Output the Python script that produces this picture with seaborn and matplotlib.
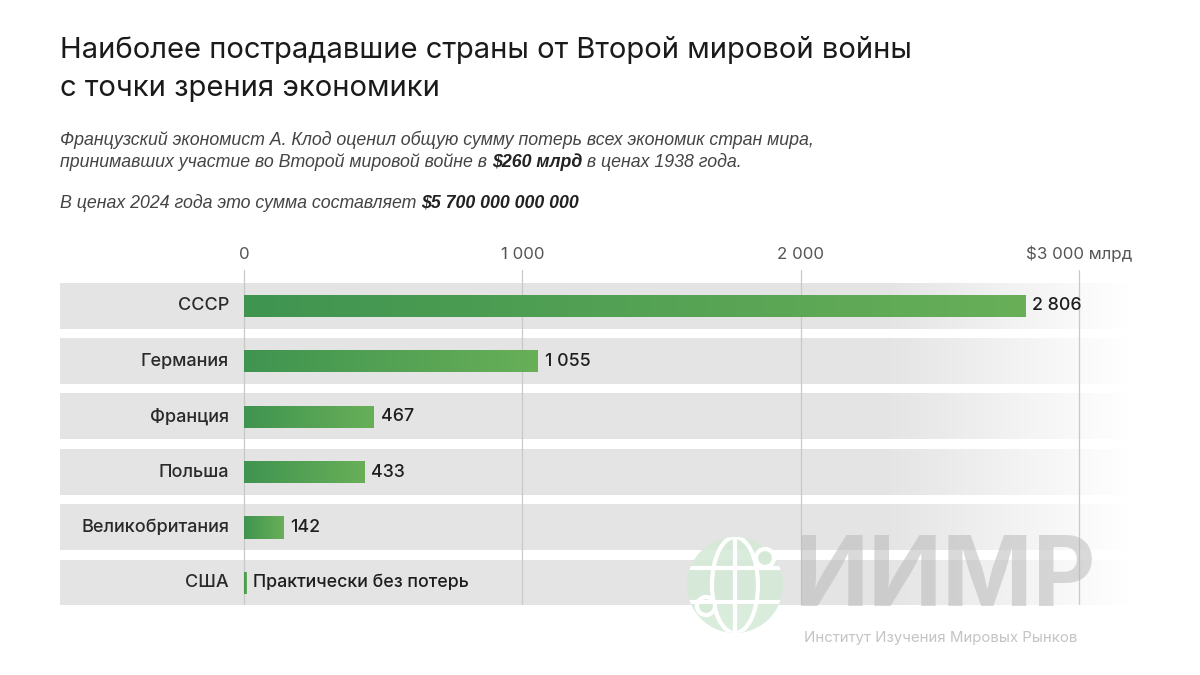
import numpy as np
import pandas as pd
import matplotlib
matplotlib.use("Agg")
import matplotlib.pyplot as plt
import matplotlib.transforms as mtransforms
from matplotlib.patches import Circle, Ellipse
import seaborn as sns

# данные
countries = ["СССР", "Германия", "Франция", "Польша", "Великобритания", "США"]
losses = [2806, 1055, 467, 433, 142, 8]   # млрд $ в ценах 1938 г., США ~ 0
value_labels = ["2 806", "1 055", "467", "433", "142", "Практически без потерь"]
ticks = [0, 1000, 2000, 3000]
tick_labels = ["0", "1 000", "2 000", "$3 000 млрд"]

df = pd.DataFrame({"country": countries, "loss": losses})

sns.set_theme(style="white")
plt.rcParams["font.family"] = ["Inter", "DejaVu Sans"]

fig = plt.figure(figsize=(12, 6.75), dpi=100)
ax = fig.add_axes([0.05, 0.1037, 0.8917, 0.4963])

xmin, xmax = -661, 3183
ax.set_xlim(xmin, xmax)
ax.set_ylim(5.4, -0.65)

# серые полосы с затуханием вправо
n = 400
alpha = np.ones(n)
xs = np.linspace(xmin, xmax, n)
fade = xs > 2300
alpha[fade] = 1 - (xs[fade] - 2300) / (xmax - 2300)
band = np.zeros((1, n, 4))
band[..., :3] = 0.895
band[..., 3] = alpha
for i in range(len(countries)):
    ax.imshow(band, extent=(xmin, xmax, i + 0.41, i - 0.41), aspect="auto", zorder=0.2)

sns.barplot(data=df, x="loss", y="country", orient="h", color="#4e9f55",
            width=0.4, ax=ax, zorder=2, linewidth=0)

# градиент на столбцах
cmap = matplotlib.colors.LinearSegmentedColormap.from_list("g", ["#3f9450", "#68af58"])
grad = np.linspace(0, 1, 256).reshape(1, -1)
for p in list(ax.patches):
    x0, y0 = p.get_x(), p.get_y()
    w, h = p.get_width(), p.get_height()
    im = ax.imshow(grad, cmap=cmap, extent=(x0, x0 + w, y0 + h, y0), aspect="auto", zorder=2.1)
    im.set_clip_path(p)

ax.set_xlim(xmin, xmax)
ax.set_ylim(5.4, -0.65)

ax.bar_label(ax.containers[0], labels=value_labels, padding=5, fontsize=12.8,
             color="#1e1e1e", fontweight="medium")

# подписи стран
off = mtransforms.offset_copy(ax.transData, fig=fig, x=-15, y=0, units="dots")
for i, c in enumerate(countries):
    ax.text(0, i, c, transform=off, ha="right", va="center", fontsize=13,
            color="#2a2a2a", fontweight="medium")

ax.set_yticks([])
ax.set_xticks(ticks)
ax.set_xticklabels(tick_labels)
ax.xaxis.tick_top()
ax.tick_params(axis="x", length=0, pad=6, labelsize=12.2, labelcolor="#555555")
ax.set_xlabel("")
ax.set_ylabel("")
ax.grid(axis="x", color="#c9c9c9", linewidth=0.9)
ax.set_axisbelow(True)
for s in ax.spines.values():
    s.set_visible(False)
ax.patch.set_alpha(0)

# заголовок
fig.text(0.05, 1 - 50 / 675, "Наиболее пострадавшие страны от Второй мировой войны",
         fontsize=21, color="#1a1a1a", va="center")
fig.text(0.05, 1 - 88 / 675, "с точки зрения экономики",
         fontsize=21, color="#1a1a1a", va="center")

sub_font = ["Liberation Sans", "DejaVu Sans"]


def rich_line(parts, x, y, size=12.8):
    for txt, bold in parts:
        t = fig.text(x, y, txt, fontsize=size, style="italic", family=sub_font,
                     color="#222222" if bold else "#444444",
                     fontweight="bold" if bold else "normal", va="center")
        fig.canvas.draw()
        bb = t.get_window_extent()
        x = bb.x1 / fig.bbox.width


rich_line([("Французский экономист А. Клод оценил общую сумму потерь всех экономик стран мира,", False)],
          0.05, 1 - 140 / 675)
rich_line([("принимавших участие во Второй мировой войне в ", False), ("$260 млрд", True),
           (" в ценах 1938 года.", False)], 0.05, 1 - 162 / 675)
rich_line([("В ценах 2024 года это сумма составляет ", False), ("$5 700 000 000 000", True)],
          0.05, 1 - 203 / 675)

# водяной знак
lax = fig.add_axes([0, 0, 1, 1], zorder=5)
lax.set_xlim(0, 1200)
lax.set_ylim(675, 0)
lax.axis("off")
g = "#d4ead6"
globe = Circle((735, 585), 48, facecolor=g, edgecolor="none", alpha=0.85)
lax.add_patch(globe)
lines = [Ellipse((735, 585), 46, 96, facecolor="none", edgecolor="white", lw=3)]
lines += lax.plot([735, 735], [537, 633], color="white", lw=3)
lines += lax.plot([685, 785], [568, 568], color="white", lw=3)
lines += lax.plot([685, 785], [602, 602], color="white", lw=3)
lax.add_patch(lines[0])
for ln in lines:
    ln.set_clip_path(globe)
lax.add_patch(Circle((765, 558), 9, facecolor=g, edgecolor="white", lw=3))
lax.add_patch(Circle((706, 606), 9, facecolor=g, edgecolor="white", lw=3))
lax.text(795, 606, "ИИМР", fontsize=70, fontweight="bold", color="#b5b5b5", alpha=0.5,
         va="baseline", ha="left")
lax.text(804, 638, "Институт Изучения Мировых Рынков", fontsize=10.8, color="#c4c4c4",
         va="center", ha="left")

fig.savefig("out.png", dpi=100)
